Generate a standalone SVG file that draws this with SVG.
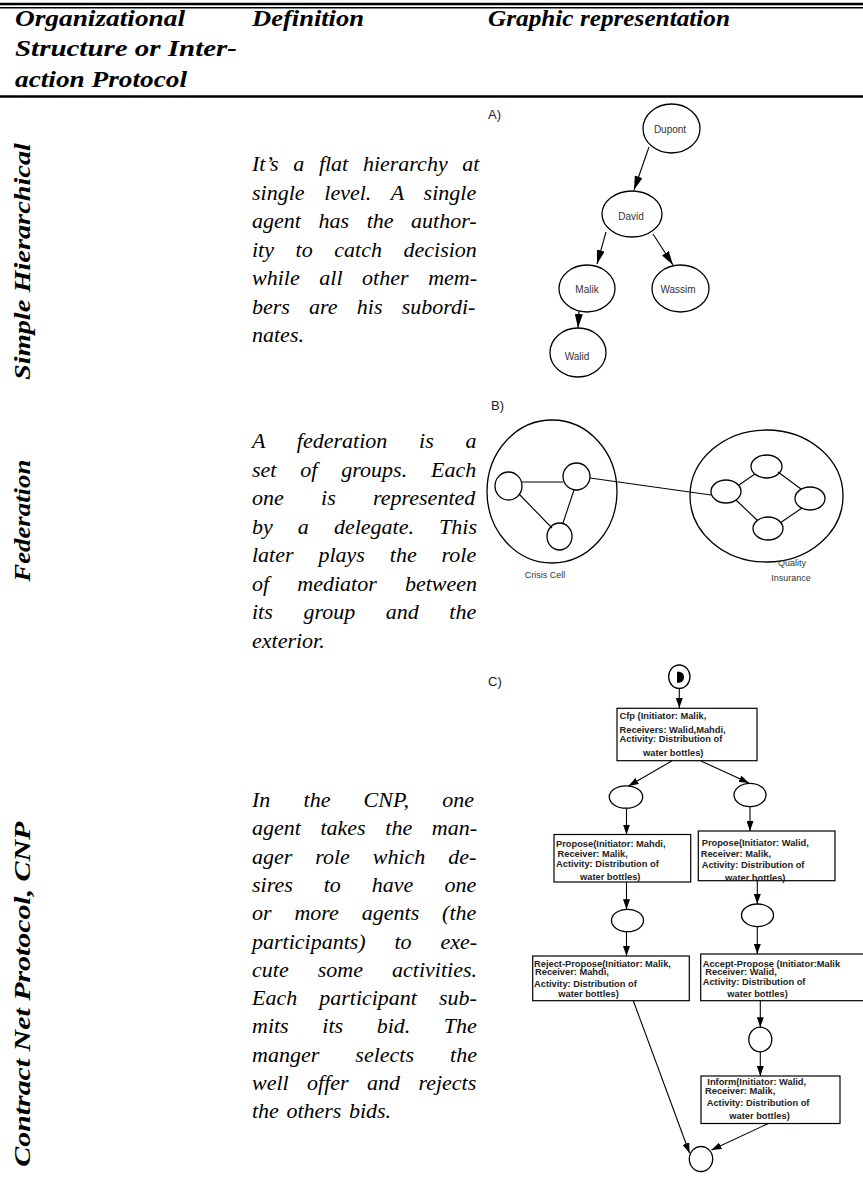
<svg xmlns="http://www.w3.org/2000/svg" width="863" height="1182" viewBox="0 0 863 1182">
<defs>
<style>
.hd{font-family:"Liberation Serif",serif;font-style:italic;font-weight:bold;font-size:23px;fill:#000}
.df{font-family:"Liberation Serif",serif;font-style:italic;font-size:22px;fill:#000}
.na{font-family:"Liberation Sans",Arial,sans-serif;font-size:10px;fill:#333;text-anchor:middle}
.fl{font-family:"Liberation Sans",Arial,sans-serif;font-size:9px;fill:#333;text-anchor:middle}
.tg{font-family:"Liberation Sans",Arial,sans-serif;font-size:13px;fill:#222}
.cn{font-family:"Liberation Sans",Arial,sans-serif;font-size:9.3px;font-weight:bold;fill:#222}
.nd{fill:#fff;stroke:#000;stroke-width:1.3}
.big{fill:none;stroke:#000;stroke-width:1.3}
.bx{fill:#fff;stroke:#000;stroke-width:1.2}
.ln{fill:none;stroke:#000;stroke-width:1.1}
.rule{stroke:#000}
</style>
<marker id="ha" viewBox="0 0 14 8" refX="14" refY="4" markerWidth="14" markerHeight="8" markerUnits="userSpaceOnUse" orient="auto"><path d="M0,0 L14,4 L0,8 z" fill="#000"/></marker>
<marker id="hc" viewBox="0 0 10 7" refX="10" refY="3.5" markerWidth="10" markerHeight="7" markerUnits="userSpaceOnUse" orient="auto"><path d="M0,0 L10,3.5 L0,7 z" fill="#000"/></marker>
</defs>
<rect width="863" height="1182" fill="#fff"/>

<g id="rules">
<line class="rule" x1="0" y1="4" x2="863" y2="4" stroke-width="2.6"/>
<line class="rule" x1="0" y1="7.8" x2="863" y2="7.8" stroke-width="1.4"/>
<line class="rule" x1="0" y1="96.5" x2="863" y2="96.5" stroke-width="2.6"/>
</g>

<g id="header">
<text class="hd" x="15" y="25.5" textLength="170" lengthAdjust="spacingAndGlyphs">Organizational</text>
<text class="hd" x="15" y="56" textLength="222" lengthAdjust="spacingAndGlyphs">Structure or Inter-</text>
<text class="hd" x="15" y="86.5" textLength="172" lengthAdjust="spacingAndGlyphs">action Protocol</text>
<text class="hd" x="252" y="25.5" textLength="112" lengthAdjust="spacingAndGlyphs">Definition</text>
<text class="hd" x="488" y="25.5" textLength="242" lengthAdjust="spacingAndGlyphs">Graphic representation</text>
</g>

<g id="row-labels">
<text class="hd" transform="translate(30,380) rotate(-90)" textLength="237" lengthAdjust="spacingAndGlyphs">Simple Hierarchical</text>
<text class="hd" transform="translate(30,581.7) rotate(-90)" textLength="122" lengthAdjust="spacingAndGlyphs">Federation</text>
<text class="hd" transform="translate(30,1166.7) rotate(-90)" textLength="345" lengthAdjust="spacingAndGlyphs">Contract Net Protocol, CNP</text>
</g>

<g id="definitions">
<text class="df" x="252" y="171" style="word-spacing:9.2px">It’s a flat hierarchy at</text>
<text class="df" x="252" y="199.5" style="word-spacing:14.3px">single level. A single</text>
<text class="df" x="252" y="228" style="word-spacing:12.1px">agent has the author-</text>
<text class="df" x="252" y="256.5" style="word-spacing:16.1px">ity to catch decision</text>
<text class="df" x="252" y="285" style="word-spacing:14.1px">while all other mem-</text>
<text class="df" x="252" y="313.5" style="word-spacing:13.7px">bers are his subordi-</text>
<text class="df" x="252" y="342">nates.</text>

<text class="df" x="252" y="448" style="word-spacing:26.3px">A federation is a</text>
<text class="df" x="252" y="476.5" style="word-spacing:18.4px">set of groups. Each</text>
<text class="df" x="252" y="505" style="word-spacing:31.8px">one is represented</text>
<text class="df" x="252" y="533.5" style="word-spacing:19.6px">by a delegate. This</text>
<text class="df" x="252" y="562" style="word-spacing:19.4px">later plays the role</text>
<text class="df" x="252" y="590.5" style="word-spacing:22.7px">of mediator between</text>
<text class="df" x="252" y="619" style="word-spacing:25.1px">its group and the</text>
<text class="df" x="252" y="647.5">exterior.</text>

<text class="df" x="252" y="807" style="word-spacing:27.7px">In the CNP, one</text>
<text class="df" x="252" y="835.3" style="word-spacing:14.1px">agent takes the man-</text>
<text class="df" x="252" y="863.6" style="word-spacing:17.4px">ager role which de-</text>
<text class="df" x="252" y="891.9" style="word-spacing:25.5px">sires to have one</text>
<text class="df" x="252" y="920.2" style="word-spacing:17.4px">or more agents (the</text>
<text class="df" x="252" y="948.5" style="word-spacing:23.3px">participants) to exe-</text>
<text class="df" x="252" y="976.8" style="word-spacing:23.6px">cute some activities.</text>
<text class="df" x="252" y="1005.1" style="word-spacing:16.5px">Each participant sub-</text>
<text class="df" x="252" y="1033.4" style="word-spacing:28.1px">mits its bid. The</text>
<text class="df" x="252" y="1061.7" style="word-spacing:30.6px">manger selects the</text>
<text class="df" x="252" y="1090" style="word-spacing:12.9px">well offer and rejects</text>
<text class="df" x="252" y="1118.3" style="word-spacing:2px">the others bids.</text>
</g>

<g id="tags">
<text class="tg" x="488" y="119">A)</text>
<text class="tg" x="491" y="410">B)</text>
<text class="tg" x="488" y="686">C)</text>
</g>

<g id="dupont"><ellipse class="nd" cx="671.5" cy="128.5" rx="28.5" ry="24.5"/><text class="na" x="670" y="133">Dupont</text></g>
<g id="david"><ellipse class="nd" cx="632" cy="214" rx="30" ry="23"/><text class="na" x="631" y="219.5">David</text></g>
<g id="malik"><ellipse class="nd" cx="587" cy="288.5" rx="28" ry="23.5"/><text class="na" x="587" y="293">Malik</text></g>
<g id="wassim"><ellipse class="nd" cx="680.5" cy="288.5" rx="28.5" ry="23.5"/><text class="na" x="678" y="293">Wassim</text></g>
<g id="walid"><ellipse class="nd" cx="578" cy="352.5" rx="28" ry="24.5"/><text class="na" x="577" y="359.5">Walid</text></g>

<g id="crisis-cell">
<ellipse class="big" cx="552" cy="491.5" rx="65" ry="71.5"/>
<text class="fl" x="545" y="578">Crisis Cell</text>
</g>
<g id="quality-insurance">
<ellipse class="big" cx="766.5" cy="496" rx="76.5" ry="66"/>
<text class="fl" x="792" y="566">Quality</text>
<text class="fl" x="791" y="581">Insurance</text>
</g>
<g id="cc-a"><ellipse class="nd" cx="508.5" cy="486" rx="13.5" ry="14"/></g>
<g id="cc-b"><ellipse class="nd" cx="576.5" cy="476.5" rx="13.5" ry="13.5"/></g>
<g id="cc-c"><ellipse class="nd" cx="559.5" cy="536.5" rx="12.5" ry="13.5"/></g>
<g id="qi-a"><ellipse class="nd" cx="726" cy="491.5" rx="15" ry="11.5"/></g>
<g id="qi-b"><ellipse class="nd" cx="766.5" cy="466.5" rx="15.5" ry="11.5"/></g>
<g id="qi-c"><ellipse class="nd" cx="810" cy="498.5" rx="15" ry="11.5"/></g>
<g id="qi-d"><ellipse class="nd" cx="768" cy="528.5" rx="15" ry="11.5"/></g>

<g id="start">
<ellipse class="nd" cx="679.3" cy="676.7" rx="10.7" ry="11.7"/>
<path d="M677,671.7 L679.5,671.7 Q684,672.7 684,677 Q684,681.5 679.5,682.7 L677,682.7 Z" fill="#000"/>
</g>
<g id="cfp">
<rect class="bx" x="617" y="708.3" width="140" height="52.4"/>
<text class="cn" x="619.5" y="718.5">Cfp (Initiator: Malik,</text>
<text class="cn" x="619.5" y="732.8">Receivers: Walid,Mahdi,</text>
<text class="cn" x="619.5" y="742.3">Activity: Distribution of</text>
<text class="cn" x="643" y="756">water bottles)</text>
</g>
<g id="s1"><ellipse class="nd" cx="626" cy="797" rx="16.7" ry="11.2"/></g>
<g id="s2"><ellipse class="nd" cx="750" cy="795" rx="16" ry="11.7"/></g>
<g id="propose-mahdi">
<rect class="bx" x="554" y="834.5" width="136.7" height="47.5"/>
<text class="cn" x="556" y="846.5">Propose(Initiator: Mahdi,</text>
<text class="cn" x="557.5" y="856.5">Receiver: Malik,</text>
<text class="cn" x="556" y="867.3">Activity: Distribution of</text>
<text class="cn" x="580" y="880.3">water bottles)</text>
</g>
<g id="propose-walid">
<rect class="bx" x="698.3" y="831" width="136.7" height="49.7"/>
<text class="cn" x="701.7" y="845.5">Propose(Initiator: Walid,</text>
<text class="cn" x="700.7" y="857.3">Receiver: Malik,</text>
<text class="cn" x="701.7" y="867.5">Activity: Distribution of</text>
<text class="cn" x="725" y="880.5">water bottles)</text>
</g>
<g id="s3"><ellipse class="nd" cx="627.5" cy="920.5" rx="16" ry="11.2"/></g>
<g id="s4"><ellipse class="nd" cx="757.5" cy="915.3" rx="16" ry="11.3"/></g>
<g id="reject-propose">
<rect class="bx" x="532.7" y="956" width="156.6" height="44.7"/>
<text class="cn" x="534" y="966.8">Reject-Propose(Initiator: Malik,</text>
<text class="cn" x="535" y="975">Receiver: Mahdi,</text>
<text class="cn" x="534" y="986.7">Activity: Distribution of</text>
<text class="cn" x="558.3" y="996.5">water bottles)</text>
</g>
<g id="accept-propose">
<rect class="bx" x="700.7" y="954" width="170" height="46.7"/>
<text class="cn" x="702.7" y="966.8">Accept-Propose (Initiator:Malik</text>
<text class="cn" x="705.3" y="974.5">Receiver: Walid,</text>
<text class="cn" x="702.7" y="985.3">Activity: Distribution of</text>
<text class="cn" x="727.3" y="997.3">water bottles)</text>
</g>
<g id="s5"><ellipse class="nd" cx="760.3" cy="1039.5" rx="11.5" ry="12.3"/></g>
<g id="inform">
<rect class="bx" x="701" y="1076" width="139" height="47.5"/>
<text class="cn" x="707.3" y="1085">Inform(Initiator: Walid,</text>
<text class="cn" x="705" y="1093.5">Receiver: Malik,</text>
<text class="cn" x="706.7" y="1106">Activity: Distribution of</text>
<text class="cn" x="729.3" y="1119.3">water bottles)</text>
</g>
<g id="end"><ellipse class="nd" cx="701" cy="1159" rx="11.7" ry="12.5"/></g>

<g id="connectors">
<line class="ln" x1="649" y1="147" x2="634" y2="190" marker-end="url(#ha)"/>
<line class="ln" x1="606" y1="232" x2="597" y2="264" marker-end="url(#ha)"/>
<line class="ln" x1="653" y1="234" x2="673" y2="265" marker-end="url(#ha)"/>
<line class="ln" x1="579" y1="311" x2="578" y2="328" marker-end="url(#ha)"/>
<line class="ln" x1="522" y1="482" x2="563" y2="482"/>
<line class="ln" x1="519" y1="494" x2="552" y2="528"/>
<line class="ln" x1="574" y1="490" x2="563" y2="523"/>
<line class="ln" x1="739" y1="485" x2="755" y2="474"/>
<line class="ln" x1="778" y1="472" x2="801" y2="489"/>
<line class="ln" x1="736" y1="500" x2="757" y2="520"/>
<line class="ln" x1="802" y1="508" x2="780" y2="523"/>
<line class="ln" x1="590" y1="478" x2="711" y2="495"/>
<line class="ln" x1="679.3" y1="688.5" x2="679.3" y2="708" marker-end="url(#hc)"/>
<line class="ln" x1="671.7" y1="761" x2="628.5" y2="786" marker-end="url(#hc)"/>
<line class="ln" x1="701" y1="761" x2="749" y2="783" marker-end="url(#hc)"/>
<line class="ln" x1="626.5" y1="808.2" x2="626.5" y2="834.5" marker-end="url(#hc)"/>
<line class="ln" x1="750" y1="806.7" x2="750" y2="831" marker-end="url(#hc)"/>
<line class="ln" x1="626.5" y1="882" x2="626.5" y2="909.3" marker-end="url(#hc)"/>
<line class="ln" x1="757.3" y1="880.7" x2="757.3" y2="904" marker-end="url(#hc)"/>
<line class="ln" x1="626.5" y1="931.7" x2="626.5" y2="956" marker-end="url(#hc)"/>
<line class="ln" x1="757.3" y1="926.6" x2="757.3" y2="954" marker-end="url(#hc)"/>
<line class="ln" x1="760.3" y1="1000.7" x2="760.3" y2="1027.2" marker-end="url(#hc)"/>
<line class="ln" x1="760.3" y1="1051.8" x2="760.3" y2="1076" marker-end="url(#hc)"/>
<line class="ln" x1="633.3" y1="1000.7" x2="689.5" y2="1153" marker-end="url(#hc)"/>
<line class="ln" x1="768.3" y1="1123.5" x2="711.5" y2="1150" marker-end="url(#hc)"/>
</g>
</svg>
